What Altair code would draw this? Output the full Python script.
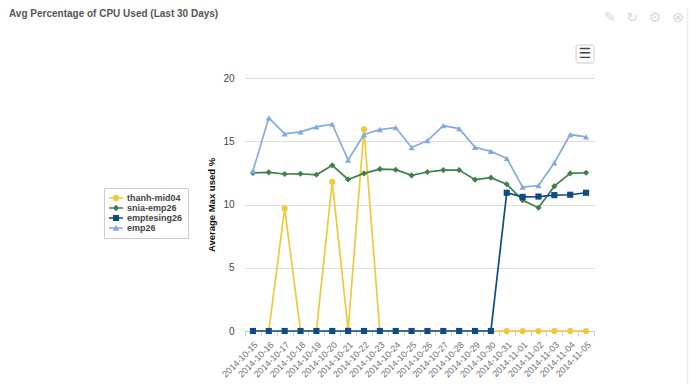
import altair as alt
import pandas as pd

dates = ["2014-10-15","2014-10-16","2014-10-17","2014-10-18","2014-10-19","2014-10-20","2014-10-21","2014-10-22",
         "2014-10-23","2014-10-24","2014-10-25","2014-10-26","2014-10-27","2014-10-28","2014-10-29","2014-10-30",
         "2014-10-31","2014-11-01","2014-11-02","2014-11-03","2014-11-04","2014-11-05"]
thanh = [0,0,9.7,0,0,11.8,0.1,15.95,0,0,0,0,0,0,0,0,0,0,0,0,0,0]
snia = [12.49,12.54,12.41,12.43,12.35,13.1,11.98,12.46,12.8,12.75,12.3,12.57,12.72,12.72,11.96,12.12,11.6,10.34,9.74,11.45,12.46,12.51]
emptesing = [0,0,0,0,0,0,0,0,0,0,0,0,0,0,0,0,10.93,10.6,10.63,10.74,10.77,10.93]
emp26 = [12.65,16.85,15.58,15.74,16.14,16.35,13.52,15.53,15.93,16.08,14.5,15.05,16.24,16.0,14.52,14.2,13.65,11.38,11.5,13.3,15.53,15.34]
series_names = ["thanh-mid04","snia-emp26","emptesing26","emp26"]
series_values = [thanh,snia,emptesing,emp26]
colors = ["#f1c83c","#3f8048","#0f4a85","#84a9e2"]
marker_shapes = ["circle","diamond","square","triangle-up"]

LINE = "M-1,-0.11H1V0.11H-1Z"
legend_paths = [
    LINE+"M-0.45,0A0.45,0.45,0,1,1,0.45,0A0.45,0.45,0,1,1,-0.45,0Z",
    LINE+"M0,-0.45L0.45,0L0,0.45L-0.45,0Z",
    LINE+"M-0.42,-0.42H0.42V0.42H-0.42Z",
    LINE+"M0,-0.45L0.48,0.4H-0.48Z",
]

rows = []
for name, vals in zip(series_names, series_values):
    for d, v in zip(dates, vals):
        rows.append({"date": d, "series": name, "value": v})
df = pd.DataFrame(rows)

FONT = "Liberation Sans"
W, H = 349, 253
L, T = 237, 70

x = alt.X("date:N", sort=dates, title=None,
          scale=alt.Scale(type="band", paddingInner=0, paddingOuter=0),
          axis=alt.Axis(labelAngle=-45, labelFontSize=9, labelColor="#707070", labelFont=FONT,
                        tickBand="extent", tickColor="#c0d0e0", domainColor="#c0d0e0", grid=False,
                        labelOverlap=False, tickSize=5, labelPadding=4))
y = alt.Y("value:Q", title="Average Max used %",
          scale=alt.Scale(domain=[0,20], nice=False),
          axis=alt.Axis(values=[0,5,10,15,20], labelFontSize=10, labelColor="#444444", labelFont=FONT,
                        gridColor="#dddddd", ticks=False, domain=False, labelPadding=11,
                        titleFont=FONT, titleFontSize=9.5, titleFontWeight="bold", titleColor="#111111",
                        titlePadding=6))
color_scale = alt.Scale(domain=series_names, range=colors)

lines = alt.Chart(df).mark_line(strokeWidth=1.7).encode(
    x=x, y=y, color=alt.Color("series:N", scale=color_scale, legend=None))
points = alt.Chart(df).mark_point(filled=True, size=38, opacity=1).encode(
    x=x, y=y,
    color=alt.Color("series:N", scale=color_scale, legend=None),
    shape=alt.Shape("series:N", scale=alt.Scale(domain=series_names, range=marker_shapes), legend=None))

legend_cfg = dict(title=None, orient="none", legendX=-141, legendY=110, fillColor="white", strokeColor="#cccccc",
                  padding=5, labelFont=FONT, labelFontSize=9, labelFontWeight="bold", labelColor="#444444",
                  rowPadding=0, symbolSize=196, clipHeight=10, labelOffset=4, symbolOpacity=1, symbolStrokeWidth=0, labelLimit=120)
legend_layer = alt.Chart(df).mark_point(filled=True, opacity=0, size=0).encode(
    x=x, y=y,
    color=alt.Color("series:N", scale=alt.Scale(domain=series_names, range=colors),
                    legend=alt.Legend(**legend_cfg)),
    shape=alt.Shape("series:N", scale=alt.Scale(domain=series_names, range=legend_paths),
                    legend=alt.Legend(**legend_cfg)))

# card edge and toolbar
one = pd.DataFrame({"a": [0]})
card = alt.Chart(one).mark_rule(stroke="#eeeeee", strokeWidth=1.5).encode(
    x=alt.value(442.5), y=alt.value(-70), y2=alt.value(306))
menu = alt.Chart(one).mark_rect(fill="white", stroke="#cccccc", cornerRadius=2).encode(
    x=alt.value(331), x2=alt.value(349), y=alt.value(-33), y2=alt.value(-15))

icon_glyphs = ["✎","↻","⚙"]
icon_x = [365,387,410]
icon_layers = [
    alt.Chart(pd.DataFrame({"t": [icon_glyphs[i]]})).mark_text(font="DejaVu Sans", fontSize=14, color="#d8d8d8", baseline="middle").encode(
        text="t:N", x=alt.value(icon_x[i]), y=alt.value(-60))
    for i in range(len(icon_glyphs))
] + [
    alt.Chart(pd.DataFrame({"t": ["⊗"]})).mark_text(font="DejaVu Sans", fontSize=14, color="#d8d8d8", baseline="middle", align="right").encode(
        text="t:N", x=alt.value(439), y=alt.value(-60))
]
burger = alt.Chart(pd.DataFrame({"t": ["☰"]})).mark_text(font="DejaVu Sans", fontSize=14, color="#444444", baseline="middle").encode(
    text="t:N", x=alt.value(340), y=alt.value(-24))
title_text = alt.Chart(pd.DataFrame({"t": ["Avg Percentage of CPU Used (Last 30 Days)"]})).mark_text(
    font=FONT, fontSize=10, fontWeight="bold", color="#555555", align="left", baseline="middle").encode(
    text="t:N", x=alt.value(-236), y=alt.value(-64))

chart = alt.layer(card, title_text, menu, burger, *icon_layers, lines, points, legend_layer).resolve_scale(
    shape="independent", color="independent"
).properties(
    width=W, height=H,
    padding={"left": L, "top": T, "right": 95, "bottom": 53},
    autosize=alt.AutoSizeParams(type="none"),
    background="white",
).configure_view(stroke=None)

chart.save("out.html", embed_options={"renderer": "svg", "actions": False})
